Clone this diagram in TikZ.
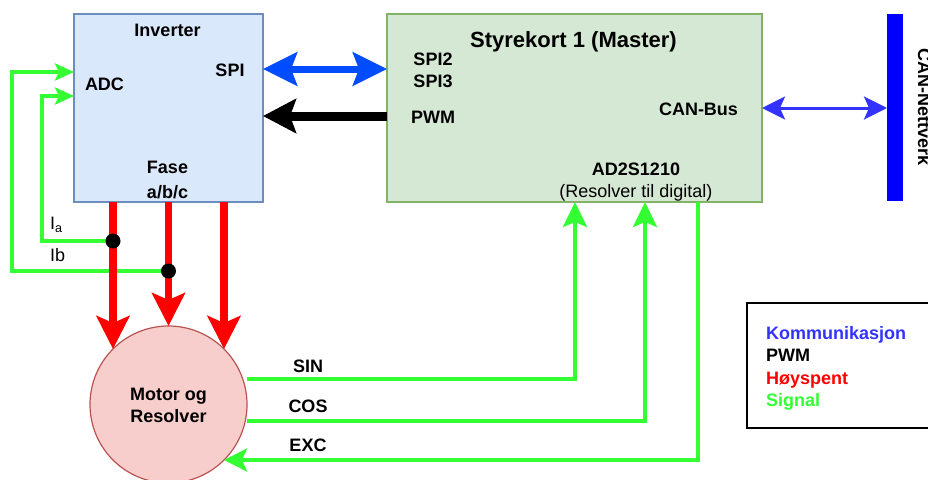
\documentclass[tikz,border=0pt]{standalone}
\usepackage{fontspec}
\setmainfont{Liberation Sans}
\usetikzlibrary{arrows.meta,calc}

\definecolor{invfill}{HTML}{DAE8FC}
\definecolor{invline}{HTML}{6C8EBF}
\definecolor{ctlfill}{HTML}{D5E8D4}
\definecolor{ctlline}{HTML}{82B366}
\definecolor{motfill}{HTML}{F8CECC}
\definecolor{motline}{HTML}{B85450}
\definecolor{siggreen}{HTML}{33FF33}
\definecolor{spiblue}{HTML}{004CFF}
\definecolor{canblue}{HTML}{3333FF}
\definecolor{busblue}{HTML}{0000FF}
\definecolor{hvred}{HTML}{FF0000}

\tikzset{
  box/.style={rectangle, anchor=north west, inner sep=0, outer sep=0, line width=1.3pt},
  lbl/.style={font=\fontsize{18}{21}\selectfont\bfseries, inner sep=0, anchor=base},
  plain/.style={font=\fontsize{18}{21}\selectfont, inner sep=0, anchor=base},
  legend/.style={font=\fontsize{18}{21}\selectfont\bfseries, inner sep=0, anchor=base west},
  spi/.style={draw=spiblue, line width=7pt,
    {Stealth[length=34pt,width=33pt,inset=6pt]}-{Stealth[length=34pt,width=33pt,inset=6pt]}},
  pwm/.style={draw=black, line width=9pt, -{Stealth[length=33pt,width=34pt,inset=6pt]}},
  can/.style={draw=canblue, line width=3pt,
    {Stealth[length=23pt,width=23pt,inset=5pt]}-{Stealth[length=23pt,width=23pt,inset=5pt]}},
  hv/.style={draw=hvred, line width=7.7pt, -{Stealth[length=33pt,width=33pt,inset=7pt]}},
  sig/.style={draw=siggreen, line width=4pt},
  sigtip/.style={sig, -{Stealth[length=25pt,width=24pt,inset=5pt]}},
  adctip/.style={sig, -{Stealth[length=19pt,width=17pt,inset=4pt]}},
  junction/.style={circle, fill=black, minimum size=15pt, inner sep=0, outer sep=0},
}

\begin{document}
\begin{tikzpicture}[x=1pt,y=-1pt]
\useasboundingbox (0,0) rectangle (928,479);

% blocks
\node[box, draw=invline, fill=invfill, minimum width=189pt, minimum height=188pt] (inv) at (74,14) {};
\node[box, draw=ctlline, fill=ctlfill, minimum width=375pt, minimum height=188pt] (ctrl) at (387,14) {};
\node[box, fill=busblue, minimum width=16pt, minimum height=187pt] (bus) at (887,14) {};
\node[circle, draw=motline, fill=motfill, line width=1.2pt, minimum size=157pt,
      inner sep=0, outer sep=0] (motor) at (168.5,404.5) {};
\node[box, draw=black, line width=1.5pt, minimum width=200pt, minimum height=125pt] (leg) at (747,303) {};

% inverter labels
\node[lbl] (invT) at (167.5,36) {Inverter};
\node[lbl] (invSPI) at (230,76) {SPI};
\node[lbl] (invADC) at (104.5,90) {ADC};
\node[lbl] (invF1) at (167.5,173) {Fase};
\node[lbl] (invF2) at (167.5,198) {a/b/c};

% control board labels
\node[lbl, font=\fontsize{22}{26}\selectfont\bfseries] (ctlT) at (573.5,47.5) {Styrekort 1 (Master)};
\node[lbl] (ctlS2) at (433,65) {SPI2};
\node[lbl] (ctlS3) at (433,87.5) {SPI3};
\node[lbl] (ctlP) at (433,123) {PWM};
\node[lbl] (ctlC) at (698.5,115) {CAN-Bus};
\node[lbl] (ctlA) at (636,175) {AD2S1210};
\node[plain] (ctlR) at (636,197) {(Resolver til digital)};

% CAN network label
\node[lbl, rotate=-90] (busT) at (918,107) {CAN-Nettverk};

% motor label
\node[lbl] (motT1) at (168.5,400) {Motor og};
\node[lbl] (motT2) at (168.5,422.5) {Resolver};

% signal names
\node[lbl] (sinT) at (308,372) {SIN};
\node[lbl] (cosT) at (308,412) {COS};
\node[lbl] (excT) at (308,451) {EXC};

% current sense labels
\node[plain, anchor=base west] (iaT) at (50,229.5) {I\textsubscript{a}};
\node[plain, anchor=base west] (ibT) at (50,261.7) {Ib};

% legend
\node[legend, text=canblue] (legK) at (766,339) {Kommunikasjon};
\node[legend, text=black] (legP) at (766,361.5) {PWM};
\node[legend, text=hvred] (legH) at (766,384) {Høyspent};
\node[legend, text=siggreen] (legS) at (766,406.5) {Signal};

% junction points on phase a and b
\coordinate (ja) at (113,241);
\coordinate (jb) at (168.5,271);

% current feedback to the ADC
\draw[adctip] (jb) -| ($(inv.north west)+(-62,58)$) -- ($(inv.north west)+(0,58)$);
\draw[adctip] (ja) -| ($(inv.north west)+(-32,82)$) -- ($(inv.north west)+(0,82)$);

% resolver signals
\draw[sigtip] ($(motor.center)+(78.5,-25.5)$) -| ($(ctrl.south west)+(188,0)$);
\draw[sigtip] ($(motor.center)+(78.5,16)$) -| ($(ctrl.south west)+(258,0)$);
\draw[sigtip, -{Stealth[length=23pt,width=23pt,inset=5pt]}] ($(ctrl.south west)+(311,0)$) |- (motor.315);

% phase lines
\draw[hv] (inv.south -| motor.135) -- (motor.135);
\draw[hv] (inv.south -| motor.north) -- (motor.north);
\draw[hv] (inv.south -| motor.45) -- (motor.45);

\node[junction] (jaDot) at (ja) {};
\node[junction] (jbDot) at (jb) {};

% communication and PWM
\draw[spi] (ctrl.west |- 0,69) -- (inv.east |- 0,69);
\draw[pwm] (ctrl.west |- 0,116) -- (inv.east |- 0,116);
\draw[can] (ctrl.east |- 0,108) -- (bus.west |- 0,108);
\end{tikzpicture}
\end{document}
